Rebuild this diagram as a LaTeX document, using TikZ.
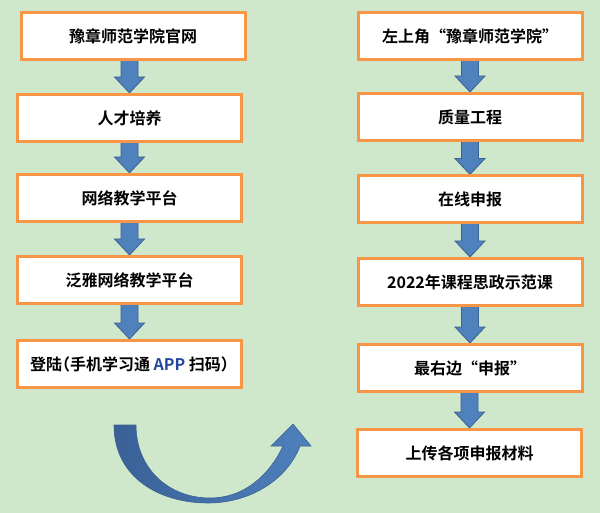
\documentclass[tikz,border=0pt]{standalone}
\usepackage{fontspec}
\setmainfont{Noto Sans CJK SC}[BoldFont={Noto Sans CJK SC Bold}]
\usetikzlibrary{calc}
\pgfdeclarelayer{back}
\pgfsetlayers{back,main}
\definecolor{bg}{RGB}{207,232,204}
\definecolor{boxorange}{RGB}{247,150,70}
\definecolor{arrowblue}{RGB}{79,129,189}
\definecolor{arrowedge}{RGB}{60,98,145}
\definecolor{arrowdark}{RGB}{58,96,150}
\definecolor{appblue}{RGB}{35,70,160}
\tikzset{
  stepbox/.style={draw=boxorange, line width=3pt, fill=white, rectangle,
    minimum width=224pt, minimum height=47pt, inner sep=0pt,
    font=\fontsize{16}{19}\selectfont\bfseries},
  barrow/.style={fill=arrowblue, draw=arrowedge, line width=0.8pt, line join=miter},
}
\newcommand\blockarrow[2]{%
  \draw[barrow] let \p1=(#1.south), \p2=(#2.north) in
    ($(\x2,\y1)+(-8.5pt,6pt)$) -- ($(\x2,\y1)+(8.5pt,6pt)$) --
    ($(\x2,\y2)+(8.5pt,16pt)$) -- ($(\x2,\y2)+(15pt,16pt)$) --
    (\x2,\y2) --
    ($(\x2,\y2)+(-15pt,16pt)$) -- ($(\x2,\y2)+(-8.5pt,16pt)$) -- cycle;}
\newcommand\hw[1]{{\addfontfeatures{RawFeature=+halt}#1}}
\begin{document}
\begin{tikzpicture}[x=1pt,y=-1pt]
\begin{pgfonlayer}{back}
\fill[bg] (0,0) rectangle (600,513);
\end{pgfonlayer}
\useasboundingbox (0,0) rectangle (600,513);
% left column
\node[stepbox] (l1) at (133,36.5) {豫章师范学院官网};
\node[stepbox] (l2) at (129.5,118) {人才培养};
\node[stepbox] (l3) at (129.5,198) {网络教学平台};
\node[stepbox] (l4) at (129.5,280) {泛雅网络教学平台};
\node[stepbox] (l5) at (129.5,364) {登陆\hw{（}手机学习通 {\color{appblue}APP} 扫码\hw{）}};
% right column
\node[stepbox] (r1) at (470,36.5) {左上角“豫章师范学院”};
\node[stepbox] (r2) at (470,117) {质量工程};
\node[stepbox] (r3) at (470,199.5) {在线申报};
\node[stepbox] (r4) at (470,282) {2022年课程思政示范课};
\node[stepbox] (r5) at (470,368) {最右边“申报”};
\node[stepbox] (r6) at (469.5,453) {上传各项申报材料};
% block arrows (behind boxes)
\begin{pgfonlayer}{back}
\blockarrow{l1}{l2}
\blockarrow{l2}{l3}
\blockarrow{l3}{l4}
\blockarrow{l4}{l5}
\blockarrow{r1}{r2}
\blockarrow{r2}{r3}
\blockarrow{r3}{r4}
\blockarrow{r4}{r5}
\blockarrow{r5}{r6}
\end{pgfonlayer}
% curved arrow
\coordinate (cs) at (125,425);
\coordinate (ce) at (293,424);
\draw[draw=arrowedge, line width=0.6pt, left color=arrowdark, right color=arrowblue]
  (114,425) .. controls (114,478) and (160,503) .. (208,503)
  .. controls (252,503) and (288,478) .. (300,446)
  -- (311,446) -- (ce) -- (271,446) -- (283,446)
  .. controls (270,474) and (245,498) .. (210,498)
  .. controls (168,498) and (136,468) .. (136,425) -- cycle;
\end{tikzpicture}
\end{document}
